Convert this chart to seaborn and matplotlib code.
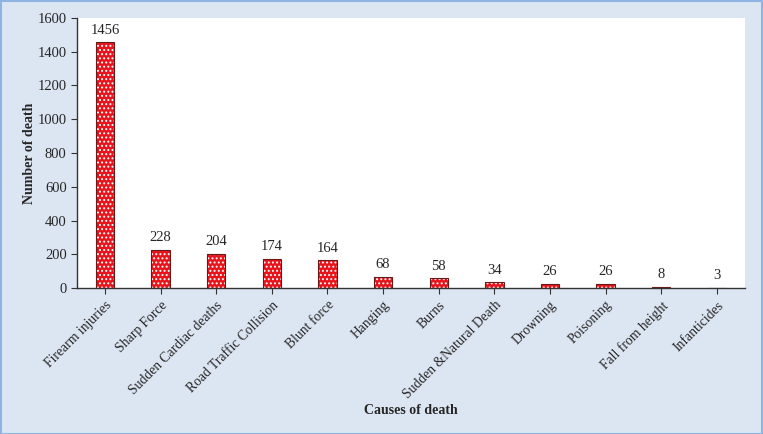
import matplotlib
matplotlib.use("Agg")
import pandas as pd
import seaborn as sns
from matplotlib import pyplot as plt
from matplotlib.patches import Rectangle

# data
causes = ["Firearm injuries", "Sharp Force", "Sudden Cardiac deaths",
          "Road Traffic Collision", "Blunt force", "Hanging", "Burns",
          "Sudden &Natural Death", "Drowning", "Poisoning",
          "Fall from height", "Infanticides"]
deaths = [1456, 228, 204, 174, 164, 68, 58, 34, 26, 26, 8, 3]
y_ticks = [0, 200, 400, 600, 800, 1000, 1200, 1400, 1600]

sns.set_style("ticks")
plt.rcParams["font.family"] = ["Liberation Serif", "DejaVu Serif"]
plt.rcParams["hatch.linewidth"] = 0.9

df = pd.DataFrame({"cause": causes, "deaths": deaths})

fig = plt.figure(figsize=(7.63, 4.34), dpi=100, facecolor="#dce6f2")
ax = fig.add_axes([0.101, 0.336, 0.875, 0.623])
ax.set_facecolor("white")

# filled bars with white dot pattern
sns.barplot(data=df, x="cause", y="deaths", ax=ax, color="#e8141c",
            saturation=1, width=0.33, edgecolor="white", linewidth=0,
            hatch="....", errorbar=None)
# dark outline on top
sns.barplot(data=df, x="cause", y="deaths", ax=ax, fill=False,
            width=0.33, edgecolor="#6b1a1a", linewidth=0.8, errorbar=None)

for i, v in enumerate(deaths):
    ax.annotate(str(v), (i, v), xytext=(0, 4), textcoords="offset points",
                ha="center", va="bottom", fontsize=10.5)

ax.set_xlim(-0.5, len(causes) - 0.5)
ax.set_ylim(0, 1600)
ax.set_yticks(y_ticks)
ax.tick_params(axis="y", labelsize=10.5, length=4, color="#333333")
ax.tick_params(axis="x", labelsize=9.8, length=4, color="#333333")
ax.set_xticks(range(len(causes)))
ax.set_xticklabels(causes, rotation=45, ha="right", rotation_mode="anchor")

for side in ["top", "right"]:
    ax.spines[side].set_visible(False)
for side in ["left", "bottom"]:
    ax.spines[side].set_color("#333333")
    ax.spines[side].set_linewidth(1)

ax.set_xlabel("Causes of death", fontsize=10, fontweight="bold", labelpad=2)
ax.set_ylabel("Number of death", fontsize=10, fontweight="bold", labelpad=1)

# figure border
fig.patches.append(Rectangle((0.001, 0.001), 0.998, 0.997,
                             transform=fig.transFigure, fill=False,
                             edgecolor="#8eb4e3", linewidth=1.5))

fig.savefig("out.png", dpi=100, facecolor=fig.get_facecolor())
